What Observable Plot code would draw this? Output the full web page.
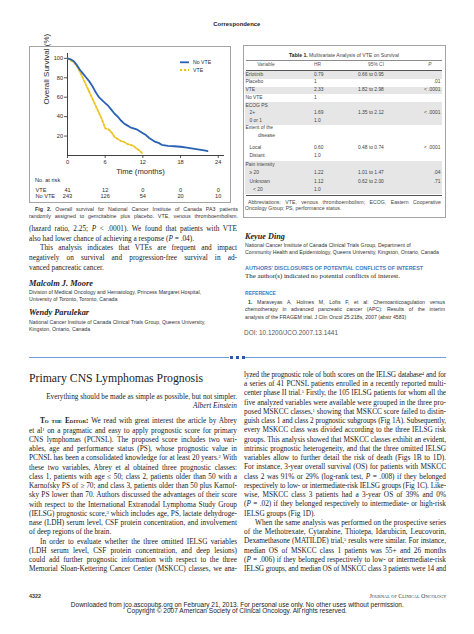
<!DOCTYPE html>
<html><head><meta charset="utf-8">
<script src="https://cdn.jsdelivr.net/npm/d3@7"></script>
<script src="https://cdn.jsdelivr.net/npm/@observablehq/plot@0.6"></script>
<style>
html,body{margin:0;padding:0;background:#fff;}
#page{position:relative;width:474px;height:634px;overflow:hidden;background:#fff;color:#1b1b1b;}
.ln{position:absolute;overflow:visible;white-space:normal;}
.abs{position:absolute;}
sup{font-size:0.62em;line-height:0;vertical-align:0.42em;}
.sc{font-variant:small-caps;font-weight:bold;}
</style></head><body><div id="page"></div>
<script>
// ---------------- DATA ----------------
const noVteMonths   = [0,0.5,1,1.5,2,2.5,3,3.5,4,4.5,5,5.5,6,6.5,7,7.5,8,8.5,9,9.5,10,10.5,11,11.5,12,12.5,13,13.5,14,14.5,15,15.5,16,17,18,19,20,21,22,22.3];
const noVteSurvival = [100,99,97,93,88,84,80,76,71,65,60,57,54,51,47,43,40,36,33,31,29,28,27,25,23,21,18,16,14,13,11,10.5,10,9.5,9,8,7,6,5,4.5];
const vteMonths     = [0,0.5,1,1.5,2,2.5,3,3.5,4,4.5,5,5.5,6,6.5,7,7.5,8,8.5,9,9.5,10,10.5,11,11.5,12];
const vteSurvival   = [100,98,96,92,86,79,72,65,58,51,44,37,28,27,24,19,17,15,14,12,11,10,7,5,1.5];
const xTicks = [0,6,12,18,24];
const yTicks = [20,40,60,80,100];
const seriesNames = ["No VTE","VTE"];
const riskGroups = ["VTE","No VTE"];
const atRiskVte   = [41,12,0,0,0];
const atRiskNoVte = [243,126,54,20,10];

const tableVariables = ["Erlotinib","Placebo","VTE","No VTE","ECOG PS","2+","0 or 1","Extent of the|disease","Local","Distant","Pain intensity","≥ 20","Unknown","< 20"];
const tableHR = ["0.79","1","2.33","1","","1.69","1.0","","0.60","1.0","","1.22","1.12","1.0"];
const tableCI = ["0.66 to 0.95","","1.82 to 2.98","","","1.35 to 2.12","","","0.48 to 0.74","","","1.01 to 1.47","0.62 to 2.00",""];
const tableP  = ["",".01","< .0001","","","< .0001","","","< .0001","","",".04",".71",""];

// ---------------- helpers ----------------
const page = document.getElementById("page");
const SERIF = '"Liberation Serif","Times New Roman",serif';
const SANS = '"Liberation Sans",Arial,Helvetica,sans-serif';
function box(css){const d=document.createElement("div");d.className="abs";d.style.cssText=css;page.appendChild(d);return d;}
function addLine(html,o){
  const lh=o.lh||o.size*1.3;
  const d=document.createElement("div");
  d.className="ln";
  const al=o.align||"left";
  d.style.cssText=`left:${o.x}px;top:${(o.yc-lh/2).toFixed(2)}px;width:${o.w}px;height:${lh}px;line-height:${lh}px;font-family:${o.font};font-size:${o.size}px;color:${o.color||"#1b1b1b"};font-weight:${o.weight||"normal"};font-style:${o.style||"normal"};text-align:${al};text-align-last:${al};${o.extra||""}`;
  d.innerHTML=html;
  page.appendChild(d);
  let ls=0;
  while(d.scrollHeight>lh+1&&ls>-1.2){ls-=0.05;d.style.letterSpacing=ls.toFixed(2)+"px";}
  if(o.target){
    d.innerHTML=`<span style="display:inline-block;white-space:nowrap">${html}</span>`;
    const s=d.firstChild;const w=s.getBoundingClientRect().width;
    s.style.transformOrigin=al==="right"?"right center":(al==="center"?"center center":"left center");
    s.style.transform=`scaleX(${(o.target/w).toFixed(3)})`;
  }
  return d;
}
function para(lines,x,y0,w,lh,size,font,extra){
  lines.forEach((ln,i)=>{
    const [t,f]=ln;const ind=f&&f.includes("i")?11:0;
    addLine(t,{x:x+ind,yc:y0+i*lh,w:w-ind,lh:lh,size:size,font:font,align:f&&f.includes("j")?"justify":"left",extra:extra||""});
  });
}

// ---------------- header ----------------
addLine("Correspondence",{x:137,yc:25,w:200,size:6,font:SANS,weight:"bold",align:"center",color:"#222",target:47});

// ---------------- figure ----------------
box("left:29px;top:46px;width:202px;height:157px;box-sizing:border-box;border:1px solid #a3a3a3;");
const noVteColor="#2a62b3", vteColor="#ecc21c";
const survRows=[
  ...noVteMonths.map((m,i)=>({group:seriesNames[0],month:m,survival:noVteSurvival[i]})),
  ...vteMonths.map((m,i)=>({group:seriesNames[1],month:m,survival:vteSurvival[i]}))
];
const survPlot=Plot.plot({
  width:202,height:130,marginLeft:38,marginRight:7,marginTop:6,marginBottom:22,
  x:{domain:[0,25]},y:{domain:[0,105]},
  style:{fontFamily:SANS,fontSize:"5.6px",color:"#2b2b2b",background:"transparent",overflow:"visible"},
  marks:[
    Plot.axisY({ticks:yTicks,tickSize:3,tickPadding:1.5,label:null,strokeWidth:0.8}),
    Plot.axisX({ticks:xTicks,tickSize:3,tickPadding:1.5,label:null,strokeWidth:0.8}),
    Plot.ruleX([0],{stroke:"#2b2b2b",strokeWidth:0.9}),
    Plot.ruleY([0],{stroke:"#2b2b2b",strokeWidth:0.9}),
    Plot.line(survRows.filter(d=>d.group==="VTE"),{x:"month",y:"survival",stroke:vteColor,strokeWidth:1.8,strokeDasharray:"2.2,1.8"}),
    Plot.line(survRows.filter(d=>d.group==="No VTE"),{x:"month",y:"survival",stroke:noVteColor,strokeWidth:1.8}),
    Plot.text(["Overall Survival (%)"],{text:d=>d,frameAnchor:"left",rotate:-90,dx:-21,fontSize:8}),
    Plot.text(["Time (months)"],{text:d=>d,frameAnchor:"bottom",dy:18,dx:-5.5,fontSize:7.6})
  ]
});
survPlot.style.position="absolute";survPlot.style.left="29px";survPlot.style.top="47px";
page.appendChild(survPlot);

// legend
const leg=box("left:178px;top:57px;width:50px;height:18px;");
leg.innerHTML=`<svg width="50" height="18" style="overflow:visible;font-family:${SANS.replace(/"/g,"'")};font-size:5.2px;fill:#2b2b2b">
<line x1="2" x2="11" y1="5.3" y2="5.3" stroke="${noVteColor}" stroke-width="1.8"/>
<text x="15" y="5.3" dy="0.35em">${seriesNames[0]}</text>
<line x1="2" x2="11" y1="13" y2="13" stroke="${vteColor}" stroke-width="1.8" stroke-dasharray="2.2,1.8"/>
<text x="15" y="13" dy="0.35em">${seriesNames[1]}</text></svg>`;

// number at risk
addLine("No. at risk",{x:35,yc:180.5,w:60,size:5.6,font:SANS,color:"#2b2b2b"});
const riskRows=xTicks.flatMap((m,i)=>[{group:"VTE",month:m,n:atRiskVte[i]},{group:"No VTE",month:m,n:atRiskNoVte[i]}]);
const riskPlot=Plot.plot({
  width:202,height:18,marginLeft:38,marginRight:7,marginTop:1,marginBottom:4,
  x:{domain:[0,25],axis:null},y:{type:"band",domain:riskGroups,axis:null,padding:0},
  style:{fontFamily:SANS,fontSize:"5.6px",color:"#2b2b2b",background:"transparent",overflow:"visible"},
  marks:[
    Plot.text(riskRows,{x:"month",y:"group",text:d=>String(d.n)}),
    Plot.text(riskGroups,{y:d=>d,text:d=>d,frameAnchor:"left",textAnchor:"start",dx:-32})
  ]
});
riskPlot.style.position="absolute";riskPlot.style.left="29px";riskPlot.style.top="184.5px";
page.appendChild(riskPlot);

// caption
addLine("<b>Fig 2.</b> Overall survival for National Cancer Institute of Canada PA3 patients",{x:35,yc:209.5,w:203,size:5.3,font:SANS,align:"justify",color:"#333"});
addLine("randomly assigned to gemcitabine plus placebo. VTE, venous thromboembolism.",{x:29,yc:216.3,w:209,size:5.3,font:SANS,align:"justify",color:"#333"});

// ---------------- left column text ----------------
para([
  ["(hazard ratio, 2.25; <i>P</i> &lt; .0001). We found that patients with VTE","j"],
  ["also had lower chance of achieving a response (<i>P</i> = .04).",""],
  ["This analysis indicates that VTEs are frequent and impact","ij"],
  ["negatively on survival and progression-free survival in ad-","j"],
  ["vanced pancreatic cancer.",""]
],29,229,208,9.6,7.3,SERIF);

addLine("Malcolm J. Moore",{x:29,yc:284,w:120,size:8.4,font:SERIF,weight:"bold",style:"italic",color:"#222"});
addLine("Division of Medical Oncology and Hematology, Princess Margaret Hospital,",{x:29,yc:292.7,w:210,size:5.2,font:SANS,color:"#333"});
addLine("University of Toronto, Toronto, Canada",{x:29,yc:299.5,w:210,size:5.2,font:SANS,color:"#333"});
addLine("Wendy Parulekar",{x:29,yc:313.5,w:120,size:8.4,font:SERIF,weight:"bold",style:"italic",color:"#222"});
addLine("National Cancer Institute of Canada Clinical Trials Group, Queens University,",{x:29,yc:322.2,w:210,size:5.2,font:SANS,color:"#333"});
addLine("Kingston, Ontario, Canada",{x:29,yc:329,w:210,size:5.2,font:SANS,color:"#333"});

// ---------------- table (right column) ----------------
box("left:243px;top:45px;width:203px;height:173px;box-sizing:border-box;border:1px solid #a3a3a3;");
addLine("<b style='color:#222'>Table 1.</b> Multivariate Analysis of VTE on Survival",{x:245,yc:55,w:198,size:5.1,font:SANS,align:"center",color:"#444"});
box("left:246px;top:60.2px;width:196px;height:0.6px;background:#8d8d8d;");
addLine("Variable",{x:246,yc:65.5,w:40,size:4.9,font:SANS,align:"center",color:"#555"});
addLine("HR",{x:314,yc:65.5,w:20,size:4.9,font:SANS,color:"#555"});
addLine("95% CI",{x:356,yc:65.5,w:40,size:4.9,font:SANS,align:"center",color:"#555"});
addLine("<i>P</i>",{x:420,yc:65.5,w:20,size:4.9,font:SANS,align:"center",color:"#555"});
box("left:246px;top:70.2px;width:196px;height:0.8px;background:#555;");
const rowLevel=[0,0,0,0,0,1,1,0,1,1,0,1,1,2];
const rowShade=[1,0,1,0,1,1,1,0,0,0,1,1,1,1];
const rowH=[7.7,7.7,7.7,7.7,7.7,7.7,7.7,19,8.4,8.4,8.4,8.4,8.4,8.4];
let rt=71.1;
tableVariables.forEach((v,i)=>{
  const h=rowH[i];
  if(rowShade[i]) box(`left:245px;top:${rt}px;width:197px;height:${h+0.05}px;background:#e6e6e6;`);
  const yc=rt+(v.includes("|")?3.6:h/2);
  const parts=v.split("|");
  const ind=[0,4,7.5][rowLevel[i]];
  addLine(parts[0],{x:245.5+ind,yc:yc,w:70,size:4.9,font:SANS,color:"#444",lh:6.5});
  if(parts[1]) addLine(parts[1],{x:258,yc:yc+7.5,w:60,size:4.9,font:SANS,color:"#444",lh:6.5});
  if(tableHR[i]) addLine(tableHR[i],{x:314,yc:yc,w:30,size:4.9,font:SANS,color:"#444",lh:6.5});
  if(tableCI[i]) addLine(tableCI[i],{x:358,yc:yc,w:50,size:4.9,font:SANS,color:"#444",lh:6.5});
  if(tableP[i]) addLine(tableP[i],{x:400,yc:yc,w:40.5,size:4.9,font:SANS,color:"#444",align:"right",lh:6.5});
  rt+=h;
});
box("left:246px;top:194.8px;width:196px;height:0.8px;background:#555;");
addLine("Abbreviations: VTE, venous thromboembolism; ECOG, Eastern Cooperative",{x:248,yc:202.3,w:193,size:5.2,font:SANS,align:"justify",color:"#444"});
addLine("Oncology Group; PS, performance status.",{x:245,yc:208.5,w:196,size:5.2,font:SANS,color:"#444"});

// ---------------- right column upper text ----------------
addLine("Keyue Ding",{x:245,yc:237,w:100,size:8.2,font:SERIF,weight:"bold",style:"italic",color:"#222"});
addLine("National Cancer Institute of Canada Clinical Trials Group, Department of",{x:245,yc:245.5,w:200,size:5.2,font:SANS,color:"#333"});
addLine("Community Health and Epidemiology, Queens University, Kingston, Ontario, Canada",{x:245,yc:252.3,w:200,size:5.2,font:SANS,color:"#333"});
addLine("AUTHORS’ DISCLOSURES OF POTENTIAL CONFLICTS OF INTEREST",{x:245,yc:269,w:200,size:6,font:SANS,weight:"bold",color:"#3b7cc4",target:178});
addLine("The author(s) indicated no potential conflicts of interest.",{x:245,yc:277,w:200,size:7,font:SERIF,color:"#222",target:155});
addLine("REFERENCE",{x:245,yc:294.3,w:100,size:6,font:SANS,weight:"bold",color:"#3b7cc4",target:31});
addLine("<b>1.</b> Maraveyas A, Holmes M, Lofts F, et al: Chemoanticoagulation versus",{x:248,yc:302.4,w:197,size:5.2,font:SANS,align:"justify",color:"#333"});
addLine("chemotherapy in advanced pancreatic cancer (APC): Results of the interim",{x:245,yc:309.8,w:200,size:5.2,font:SANS,align:"justify",color:"#333"});
addLine("analysis of the FRAGEM trial. J Clin Oncol 25:218s, 2007 (abstr 4583)",{x:245,yc:316.9,w:200,size:5.2,font:SANS,color:"#333"});
addLine("DOI: 10.1200/JCO.2007.13.1441",{x:244,yc:333.3,w:120,size:6.4,font:SANS,color:"#555",target:94});

// ---------------- separator ----------------
box("left:29px;top:356.6px;width:200px;height:0.8px;background:#6d9bd6;");
[231,237,243].forEach(c=>box(`left:${c-1.5}px;top:355.5px;width:3px;height:3px;background:#2a5aa8;`));
box("left:245px;top:356.6px;width:201px;height:0.8px;background:#6d9bd6;");

// ---------------- article ----------------
addLine("Primary CNS Lymphomas Prognosis",{x:29,yc:378,w:210,size:12.5,font:SERIF,color:"#222",target:174});
addLine("Everything should be made as simple as possible, but not simpler.",{x:30,yc:396.5,w:207,size:7.3,font:SERIF,align:"right",target:191});
addLine("Albert Einstein",{x:130,yc:405.8,w:107,size:7.3,font:SERIF,style:"italic",align:"right"});

para([
  ["<span class='sc'>To the Editor:</span> We read with great interest the article by Abrey","ij"],
  ["et al<sup>1</sup> on a pragmatic and easy to apply prognostic score for primary","j"],
  ["CNS lymphomas (PCNSL). The proposed score includes two vari-","j"],
  ["ables, age and performance status (PS), whose prognostic value in","j"],
  ["PCNSL has been a consolidated knowledge for at least 20 years.<sup>2</sup> With","j"],
  ["these two variables, Abrey et al obtained three prognostic classes:","j"],
  ["class 1, patients with age ≤ 50; class 2, patients older than 50 with a","j"],
  ["Karnofsky PS of ≥ 70; and class 3, patients older than 50 plus Karnof-","j"],
  ["sky PS lower than 70. Authors discussed the advantages of their score","j"],
  ["with respect to the International Extranodal Lymphoma Study Group","j"],
  ["(IELSG) prognostic score,<sup>3</sup> which includes age, PS, lactate dehydroge-","j"],
  ["nase (LDH) serum level, CSF protein concentration, and involvement","j"],
  ["of deep regions of the brain.",""],
  ["In order to evaluate whether the three omitted IELSG variables","ij"],
  ["(LDH serum level, CSF protein concentration, and deep lesions)","j"],
  ["could add further prognostic information with respect to the three","j"],
  ["Memorial Sloan-Kettering Cancer Center (MSKCC) classes, we ana-","j"]
],29,421,208,9.25,7.3,SERIF);

para([
  ["lyzed the prognostic role of both scores on the IELSG database<sup>4</sup> and for","j"],
  ["a series of 41 PCNSL patients enrolled in a recently reported multi-","j"],
  ["center phase II trial.<sup>5</sup> Firstly, the 105 IELSG patients for whom all the","j"],
  ["five analyzed variables were available were grouped in the three pro-","j"],
  ["posed MSKCC classes,<sup>1</sup> showing that MSKCC score failed to distin-","j"],
  ["guish class 1 and class 2 prognostic subgroups (Fig 1A). Subsequently,","j"],
  ["every MSKCC class was divided according to the three IELSG risk","j"],
  ["groups. This analysis showed that MSKCC classes exhibit an evident,","j"],
  ["intrinsic prognostic heterogeneity, and that the three omitted IELSG","j"],
  ["variables allow to further detail the risk of death (Figs 1B to 1D).","j"],
  ["For instance, 3-year overall survival (OS) for patients with MSKCC","j"],
  ["class 2 was 91% or 29% (log-rank test, <i>P</i> = .008) if they belonged","j"],
  ["respectively to low- or intermediate-risk IELSG groups (Fig 1C). Like-","j"],
  ["wise, MSKCC class 3 patients had a 3-year OS of 39% and 0%","j"],
  ["(<i>P</i> = .02) if they belonged respectively to intermediate- or high-risk","j"],
  ["IELSG groups (Fig 1D).",""],
  ["When the same analysis was performed on the prospective series","ij"],
  ["of the Methotrexate, Cytarabine, Thiotepa, Idarubicin, Leucovorin,","j"],
  ["Dexamethasone (MATILDE) trial,<sup>5</sup> results were similar. For instance,","j"],
  ["median OS of MSKCC class 1 patients was 55+ and 26 months","j"],
  ["(<i>P</i> = .006) if they belonged respectively to low- or intermediate-risk","j"],
  ["IELSG groups, and median OS of MSKCC class 3 patients were 14 and","j"]
],244,374.5,202,9.25,7.3,SERIF);

// ---------------- footer ----------------
addLine("4322",{x:29,yc:596.5,w:30,size:5.4,font:SANS,weight:"bold",color:"#333"});
addLine("Journal of Clinical Oncology",{x:346,yc:596.5,w:100,size:5.6,font:SERIF,align:"right",color:"#333",extra:"font-variant:small-caps;",target:77});
addLine("Downloaded from jco.ascopubs.org on February 21, 2013. For personal use only. No other uses without permission.",{x:0,yc:604.8,w:474,size:6.3,font:SANS,align:"center",color:"#222",target:333});
addLine("Copyright © 2007 American Society of Clinical Oncology. All rights reserved.",{x:0,yc:611.5,w:474,size:6.3,font:SANS,align:"center",color:"#222",target:220});
</script></body></html>
